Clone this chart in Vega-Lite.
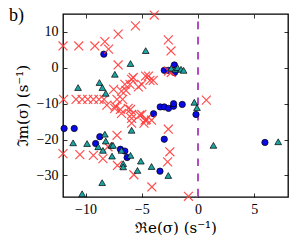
{
  "$schema": "https://vega.github.io/schema/vega-lite/v6.json",
  "width": 225,
  "height": 183,
  "autosize": {"type": "none"},
  "padding": {"left": 63, "top": 14, "right": 12, "bottom": 47},
  "background": "white",
  "title": {"text": "b)", "anchor": "start", "frame": "group", "orient": "top", "font": "Liberation Serif", "fontSize": 18, "fontWeight": "normal", "color": "black", "dx": -54, "dy": 31, "baseline": "alphabetic", "offset": 0},
  "data": {"values": [
    {"s":"c","x":-8.37,"y":3.8},{"s":"c","x":-3.0,"y":-0.7},{"s":"c","x":-2.64,"y":-0.7},{"s":"c","x":-2.1,"y":0.8},{"s":"c","x":-2.08,"y":-1.3},
    {"s":"c","x":-3.95,"y":-12.8},{"s":"c","x":-3.36,"y":-10.9},{"s":"c","x":-3.0,"y":-10.9},{"s":"c","x":-2.62,"y":-11.3},{"s":"c","x":-2.17,"y":-10.7},
    {"s":"c","x":-2.17,"y":-10.0},{"s":"c","x":-1.4,"y":-10.2},{"s":"c","x":-0.18,"y":-13.0},{"s":"c","x":-3.0,"y":-19.9},{"s":"c","x":-3.38,"y":-28.8},
    {"s":"c","x":-6.9,"y":-22.7},{"s":"c","x":-6.5,"y":-23.2},{"s":"c","x":-6.3,"y":-25.0},{"s":"c","x":-11.9,"y":-16.9},{"s":"c","x":-11.0,"y":-16.9},
    {"s":"c","x":-8.73,"y":-19.2},{"s":"c","x":-9.1,"y":-21.1},{"s":"c","x":5.95,"y":-20.8},
    {"s":"x","x":-12.0,"y":6.1},{"s":"x","x":-10.6,"y":6.1},{"s":"x","x":-9.17,"y":6.1},{"s":"x","x":-8.28,"y":7.3},{"s":"x","x":-7.95,"y":5.2},
    {"s":"x","x":-7.1,"y":9.4},{"s":"x","x":-7.1,"y":0.8},{"s":"x","x":-5.56,"y":11.7},{"s":"x","x":-3.89,"y":14.7},{"s":"x","x":-2.64,"y":7.8},
    {"s":"x","x":-2.4,"y":4.7},{"s":"x","x":-2.62,"y":-0.9},{"s":"x","x":-2.38,"y":-1.3},{"s":"x","x":0.74,"y":-9.0},
    {"s":"x","x":-11.95,"y":-8.8},{"s":"x","x":-10.84,"y":-8.8},{"s":"x","x":-10.3,"y":-8.8},{"s":"x","x":-9.8,"y":-8.8},{"s":"x","x":-9.3,"y":-8.8},
    {"s":"x","x":-8.8,"y":-8.8},{"s":"x","x":-8.35,"y":-8.8},{"s":"x","x":-7.2,"y":-8.8},{"s":"x","x":-6.7,"y":-8.8},
    {"s":"x","x":-5.76,"y":-2.7},{"s":"x","x":-4.66,"y":-2.3},{"s":"x","x":-4.27,"y":-3.5},{"s":"x","x":-3.98,"y":-3.5},{"s":"x","x":-6.5,"y":-4.6},
    {"s":"x","x":-6.05,"y":-4.6},{"s":"x","x":-5.3,"y":-5.3},{"s":"x","x":-5.0,"y":-4.6},{"s":"x","x":-6.8,"y":-6.5},{"s":"x","x":-6.4,"y":-6.3},
    {"s":"x","x":-7.5,"y":-6.0},{"s":"x","x":-5.9,"y":-3.2},{"s":"x","x":-4.4,"y":-2.3},{"s":"x","x":-7.35,"y":-10.7},{"s":"x","x":-6.9,"y":-11.6},
    {"s":"x","x":-6.0,"y":-11.6},{"s":"x","x":-5.9,"y":-13.0},{"s":"x","x":-5.0,"y":-13.0},{"s":"x","x":-4.6,"y":-14.4},{"s":"x","x":-8.1,"y":-10.4},
    {"s":"x","x":-7.4,"y":-11.3},{"s":"x","x":-6.2,"y":-11.3},{"s":"x","x":-5.9,"y":-14.1},{"s":"x","x":-5.2,"y":-13.2},{"s":"x","x":-4.7,"y":-14.6},
    {"s":"x","x":-4.13,"y":-14.6},{"s":"x","x":-6.8,"y":-12.7},{"s":"x","x":-5.9,"y":-15.4},{"s":"x","x":-4.8,"y":-15.4},
    {"s":"x","x":-2.64,"y":-17.1},{"s":"x","x":-2.5,"y":-23.4},{"s":"x","x":-2.7,"y":-26.2},{"s":"x","x":-5.7,"y":-29.8},{"s":"x","x":-4.1,"y":-33.2},
    {"s":"x","x":-7.2,"y":-18.8},{"s":"x","x":-0.85,"y":-35.8},{"s":"x","x":-10.5,"y":-24.2},{"s":"x","x":-9.3,"y":-24.4},{"s":"x","x":-8.45,"y":-25.3},
    {"s":"x","x":-8.0,"y":-22.0},{"s":"x","x":-7.16,"y":-27.2},{"s":"x","x":-12.0,"y":-23.9},
    {"s":"t","x":-10.66,"y":-5.5},{"s":"t","x":-8.76,"y":-4.1},{"s":"t","x":-8.5,"y":-5.5},{"s":"t","x":-8.2,"y":-7.1},{"s":"t","x":-7.39,"y":-1.8},
    {"s":"t","x":-6.0,"y":1.2},{"s":"t","x":-4.65,"y":4.8},{"s":"t","x":-2.38,"y":-0.1},{"s":"t","x":-2.0,"y":-0.4},{"s":"t","x":-1.82,"y":0.05},
    {"s":"t","x":-1.51,"y":-0.4},{"s":"t","x":-1.28,"y":-0.7},{"s":"t","x":-0.33,"y":-9.6},{"s":"t","x":-0.09,"y":-11.1},{"s":"t","x":1.37,"y":-21.6},
    {"s":"t","x":7.13,"y":-20.6},{"s":"t","x":-5.9,"y":-17.4},{"s":"t","x":-6.8,"y":-23.0},{"s":"t","x":-6.0,"y":-24.4},{"s":"t","x":-5.08,"y":-26.0},
    {"s":"t","x":-6.65,"y":-26.7},{"s":"t","x":-6.65,"y":-27.6},{"s":"t","x":-5.38,"y":-28.6},{"s":"t","x":-4.13,"y":-27.5},{"s":"t","x":-2.64,"y":-30.0},
    {"s":"t","x":-11.1,"y":-20.9},{"s":"t","x":-9.86,"y":-21.1},{"s":"t","x":-8.28,"y":-18.5},{"s":"t","x":-8.87,"y":-22.0},{"s":"t","x":-8.2,"y":-20.4},
    {"s":"t","x":-8.45,"y":-23.0},{"s":"t","x":-7.7,"y":-21.6},{"s":"t","x":-7.55,"y":-21.6},{"s":"t","x":-7.64,"y":-24.6},{"s":"t","x":-8.52,"y":-32.0},
    {"s":"t","x":-10.3,"y":-35.1},
    {"s":"v","x":0}
  ]},
  "layer": [
    {
      "transform": [{"filter": "datum.s === 'v'"}],
      "mark": {"type": "rule", "color": "#b04cc0", "strokeWidth": 2, "strokeDash": [7.6, 7.6], "strokeDashOffset": 7.6},
      "encoding": {"x": {"field": "x", "type": "quantitative", "scale": {"domain": [-12, 8], "nice": false, "zero": false}, "axis": null}}
    },
    {
      "transform": [{"filter": "datum.s === 'c'"}],
      "mark": {"type": "point", "shape": "circle", "filled": true, "fill": "#0a0ae6", "stroke": "black", "strokeWidth": 0.7, "size": 40, "opacity": 1},
      "encoding": {
        "x": {"field": "x", "type": "quantitative", "scale": {"domain": [-12, 8], "nice": false, "zero": false},
              "axis": {"orient": "bottom", "values": [-10, -5, 0, 5], "title": "ℜe(σ)  (s⁻¹)", "labelPadding": 9, "titlePadding": 4}},
        "y": {"field": "y", "type": "quantitative", "scale": {"domain": [-36, 15], "nice": false, "zero": false},
              "axis": {"orient": "left", "values": [-30, -20, -10, 0, 10], "title": "ℑm(σ)  (s⁻¹)", "labelPadding": 9, "titlePadding": 6}}
      }
    },
    {
      "transform": [{"filter": "datum.s === 'x'"}],
      "mark": {"type": "point", "shape": "M-1,-1L1,1M-1,1L1,-1", "filled": false, "stroke": "#ff3c3c", "strokeWidth": 1.2, "size": 80, "opacity": 0.9},
      "encoding": {
        "x": {"field": "x", "type": "quantitative", "scale": {"domain": [-12, 8], "nice": false, "zero": false},
              "axis": {"orient": "top", "values": [-10, -5, 0, 5], "labels": false, "title": null}},
        "y": {"field": "y", "type": "quantitative", "scale": {"domain": [-36, 15], "nice": false, "zero": false},
              "axis": {"orient": "right", "values": [-30, -20, -10, 0, 10], "labels": false, "title": null}}
      }
    },
    {
      "transform": [{"filter": "datum.s === 't'"}],
      "mark": {"type": "point", "shape": "triangle-up", "filled": true, "fill": "#1ea3a3", "stroke": "black", "strokeWidth": 0.7, "size": 45, "opacity": 1},
      "encoding": {
        "x": {"field": "x", "type": "quantitative", "scale": {"domain": [-12, 8], "nice": false, "zero": false}, "axis": null},
        "y": {"field": "y", "type": "quantitative", "scale": {"domain": [-36, 15], "nice": false, "zero": false}, "axis": null}
      }
    }
  ],
  "resolve": {"axis": {"x": "independent", "y": "independent"}},
  "config": {
    "view": {"stroke": "black", "strokeWidth": 1.3},
    "axis": {"domain": false, "grid": false, "ticks": true, "tickColor": "black", "tickWidth": 0.8, "tickSize": -4,
             "labelFont": "Liberation Serif", "labelFontSize": 14, "labelColor": "black",
             "titleFont": "DejaVu Serif", "titleFontSize": 15, "titleFontWeight": "normal", "titleColor": "black"}
  }
}
